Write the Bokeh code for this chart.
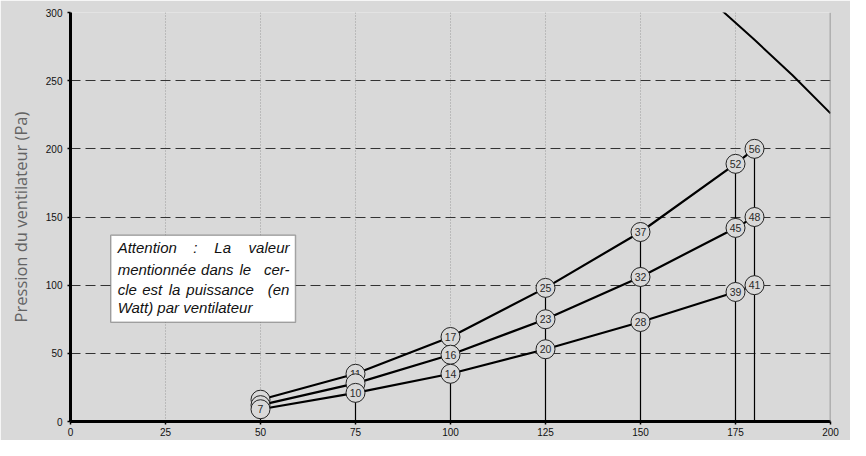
from bokeh.plotting import figure
from bokeh.models import Range1d, Span, BoxAnnotation, Label, FixedTicker
from bokeh.core.properties import value
from bokeh.embed import file_html
from bokeh.resources import INLINE

# ---- data ----
debits = [50, 75, 100, 125, 150, 175, 180]
p_haut = [16, 35, 62, 98, 139, 189, 200]
p_milieu = [12, 28, 49, 75, 106, 142, 150]
p_bas = [9, 21, 35, 53, 73, 95, 100]
w_haut = ["", "11", "17", "25", "37", "52", "56"]
w_milieu = ["", "", "16", "23", "32", "45", "48"]
w_bas = ["7", "10", "14", "20", "28", "39", "41"]

fan_debit = [170, 180, 190, 200]
fan_pression = [305, 280, 254, 226]

x_ticks = [0, 25, 50, 75, 100, 125, 150, 175, 200]
y_ticks = [0, 50, 100, 150, 200, 250, 300]
x_grid = [25, 50, 75, 100, 125, 150, 175]

BG = "#d9d9d9"

p = figure(width=850, height=440, x_range=Range1d(0, 200), y_range=Range1d(0, 300),
           output_backend="svg", toolbar_location=None,
           min_border_left=70, min_border_right=20, min_border_top=12, min_border_bottom=19)
p.background_fill_color = BG
p.border_fill_color = BG
p.outline_line_color = None

# axes
p.xaxis.ticker = FixedTicker(ticks=x_ticks)
p.yaxis.ticker = FixedTicker(ticks=y_ticks)
for ax in (p.xaxis, p.yaxis):
    ax.axis_line_width = 3
    ax.axis_line_color = "black"
    ax.major_tick_out = 3
    ax.major_tick_in = 0
    ax.major_tick_line_color = "black"
    ax.major_tick_line_width = 1.5
    ax.minor_tick_line_color = None
    ax.major_label_text_font = "Liberation Sans"
    ax.major_label_text_font_size = "10px"
    ax.major_label_text_color = "#111111"
p.xaxis.major_label_standoff = 3
p.yaxis.major_label_standoff = 5
p.yaxis.axis_label = "Pression du ventilateur (Pa)"
p.yaxis.axis_label_text_font = "Open Sans"
p.yaxis.axis_label_text_font_style = "normal"
p.yaxis.axis_label_text_font_size = "16.5px"
p.yaxis.axis_label_text_color = "#636363"
p.yaxis.axis_label_standoff = 11

# grids
p.xgrid.ticker = FixedTicker(ticks=x_grid)
p.xgrid.grid_line_color = "#9a9a9a"
p.xgrid.grid_line_dash = "1 2"
p.xgrid.grid_line_width = 1
p.ygrid.ticker = FixedTicker(ticks=y_ticks)
p.ygrid.grid_line_color = "#333333"
p.ygrid.grid_line_dash = "10 5"
p.ygrid.grid_line_width = 1.2

p.add_layout(Span(location=200, dimension="height", line_color="#7f7f7f", line_width=1.5))

# fan curve
p.line(fan_debit, fan_pression, line_color="black", line_width=2)

# drop lines
p.segment(x0=debits, y0=[0] * len(debits), x1=debits, y1=p_haut, line_color="black", line_width=1.2)

# curves
for ys in (p_haut, p_milieu, p_bas):
    p.line(debits, ys, line_color="black", line_width=2.2, line_join="round")

# circles with watt labels
for ys, ws in ((p_haut, w_haut), (p_milieu, w_milieu), (p_bas, w_bas)):
    p.scatter(debits, ys, size=19, fill_color=BG, line_color="#222222", line_width=1)
    p.text(debits, ys, text=ws, text_align="center", text_baseline="middle",
           text_font=value("Liberation Sans"), text_font_size="10.5px", text_color="#2a2a2a")

# annotation box
p.add_layout(BoxAnnotation(left=10.6, right=59.2, top=136.6, bottom=72.8,
                           fill_color="white", fill_alpha=1.0,
                           line_color="black", line_width=1.5))

def px2x(px):
    return (px - 70) / 3.87

def py2y(py):
    return (436 - py) / 1.4133

words = [
    ("Attention", 118, 256, "left"), (":", 195, 256, "left"), ("La", 216.5, 256, "left"), ("valeur", 293, 256, "right"),
    ("mentionnée", 118, 278.5, "left"), ("dans", 203, 278.5, "left"), ("le", 242, 278.5, "left"), ("cer-", 293, 278.5, "right"),
    ("cle", 118, 299, "left"), ("est", 143, 299, "left"), ("la", 170, 299, "left"), ("puissance", 188, 299, "left"), ("(en", 293, 299, "right"),
    ("Watt) par ventilateur", 118, 317.5, "left"),
]
for w, wx, wy, al in words:
    p.add_layout(Label(x=px2x(wx), y=py2y(wy), text=w, text_align=al, text_baseline="middle",
                       text_font="Liberation Sans", text_font_style="italic",
                       text_font_size="15px", text_color="#111111"))

open("out.html", "w").write(file_html(p, INLINE))
